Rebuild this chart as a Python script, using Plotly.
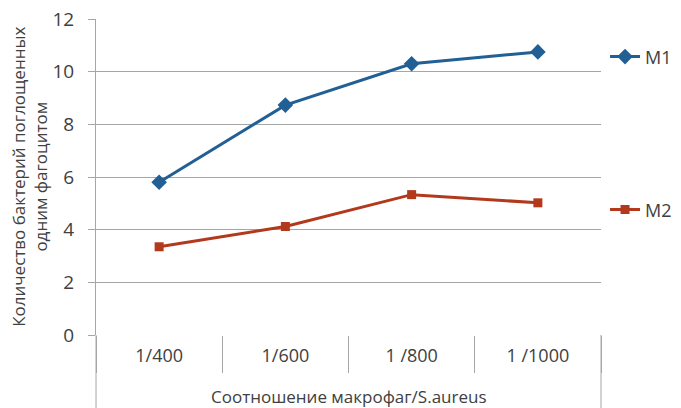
import plotly.graph_objects as go

categories = ["1/400", "1/600", "1 /800", "1 /1000"]
m1_values = [5.8, 8.73, 10.3, 10.75]
m2_values = [3.35, 4.12, 5.33, 5.02]
y_ticks = [0, 2, 4, 6, 8, 10, 12]

blue = "#215F94"
red = "#B2391B"
grid = "#A6A6A6"
txt = "#404040"
font = "Open Sans"

fig = go.Figure()
fig.add_trace(go.Scatter(
    x=categories, y=m1_values, name="M1", mode="lines+markers",
    line=dict(color=blue, width=3),
    marker=dict(symbol="diamond", size=12, color=blue),
    legend="legend",
))
fig.add_trace(go.Scatter(
    x=categories, y=m2_values, name="M2", mode="lines+markers",
    line=dict(color=red, width=3),
    marker=dict(symbol="square", size=9, color=red),
    legend="legend2",
))

fig.update_layout(
    width=681, height=408,
    margin=dict(l=96, r=80, t=19, b=73, autoexpand=False),
    paper_bgcolor="white", plot_bgcolor="white",
    font=dict(family=font, size=14, color=txt),
    showlegend=True,
    legend=dict(x=1.008, y=0.88, xanchor="left", yanchor="middle",
                font=dict(size=18, color=txt), bgcolor="rgba(0,0,0,0)"),
    legend2=dict(x=1.008, y=0.396, xanchor="left", yanchor="middle",
                 font=dict(size=18, color=txt), bgcolor="rgba(0,0,0,0)"),
    xaxis=dict(
        type="category", range=[-0.5, 3.5], automargin=False,
        showgrid=False, showline=False, zeroline=False,
        tickson="boundaries", ticks="outside", ticklen=37, tickcolor=grid, tickwidth=1,
        tickfont=dict(size=18, color=txt), ticklabelstandoff=8,
    ),
    yaxis=dict(
        range=[0, 12], tickvals=y_ticks, automargin=False,
        showgrid=True, gridcolor=grid, gridwidth=1,
        showline=True, linecolor=grid, linewidth=1,
        zeroline=False,
        ticks="outside", ticklen=7, tickcolor=grid,
        tickfont=dict(size=19, color=txt), ticklabelstandoff=10,
    ),
    annotations=[
        dict(text="Соотношение макрофаг/S.aureus", xref="paper", yref="paper",
             x=0.5, y=-0.196, xanchor="center", yanchor="middle", showarrow=False,
             font=dict(size=17, color=txt)),
        dict(text="Количество бактерий поглощенных<br>одним фагоцитом", xref="paper", yref="paper",
             x=-0.133, y=0.5, xanchor="center", yanchor="middle", showarrow=False,
             textangle=-90, font=dict(size=17, color=txt)),
    ],
)

# table-like border lines below the x axis
fig.add_shape(type="line", xref="paper", yref="paper", x0=0, x1=0, y0=0, y1=-0.24,
              line=dict(color=grid, width=1))
fig.add_shape(type="line", xref="paper", yref="paper", x0=1, x1=1, y0=0, y1=-0.24,
              line=dict(color=grid, width=1))

fig.write_html("out.html", config={"displayModeBar": False},
               post_script="document.body.style.margin='0';document.body.style.overflow='hidden';")
